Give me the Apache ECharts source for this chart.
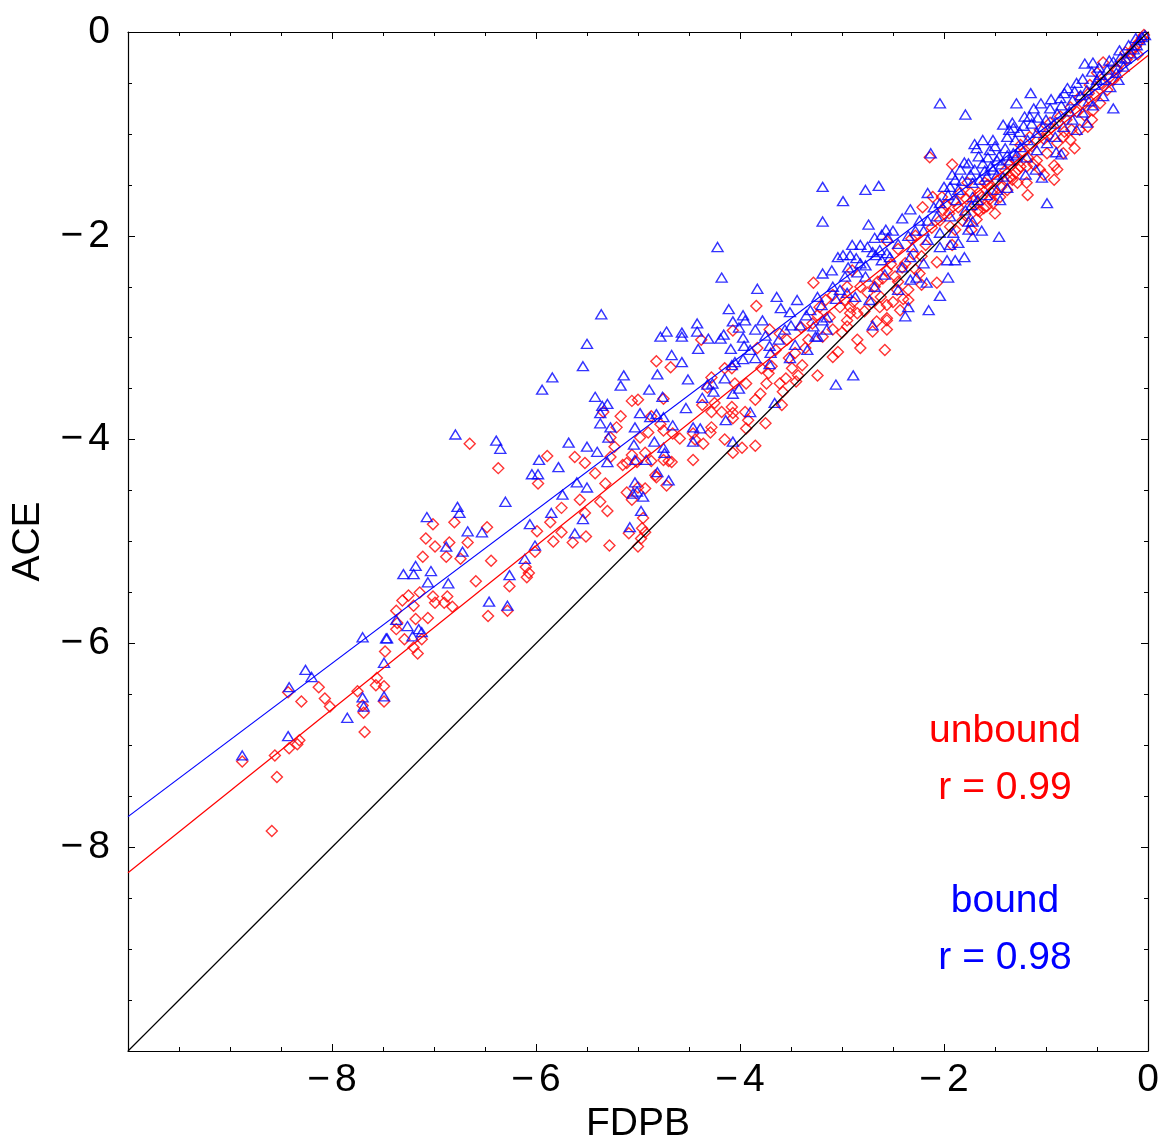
<!DOCTYPE html>
<html>
<head>
<meta charset="utf-8">
<script src="https://cdn.jsdelivr.net/npm/echarts@6/dist/echarts.min.js"></script>
<style>
html,body{margin:0;padding:0;background:#ffffff;}
#chart{width:1163px;height:1140px;}
</style>
</head>
<body>
<div id="chart"></div>
<script>
// ---------------- data ----------------
const axisMin = -10;
const axisMax = 0;
const majorStep = 2;
const xAxisTitle = 'FDPB';
const yAxisTitle = 'ACE';

// unbound (red diamonds): [FDPB, ACE]
const unboundPoints = [
[-7.48,-6.08],[-8.13,-6.43],[-8.43,-6.48],[-8.30,-6.57],[-8.07,-6.54],[-8.02,-6.62],[-7.75,-6.47],[-7.56,-6.34],[-7.57,-6.41],[-7.49,-6.42],[-7.49,-6.57],[-7.70,-6.61],[-7.69,-6.68],[-7.68,-6.87],[-8.32,-6.95],[-8.34,-6.99],[-8.42,-7.03],[-8.56,-7.10],[-8.88,-7.16],[-8.54,-7.31],[-8.59,-7.84],
[-6.65,-4.04],[-6.37,-4.28],[-5.89,-4.16],[-5.62,-4.17],[-5.52,-4.23],[-5.98,-4.43],[-5.42,-4.33],[-5.32,-4.43],[-5.57,-4.59],[-5.75,-4.67],[-5.37,-4.61],[-5.30,-4.70],[-5.52,-4.72],[-5.86,-4.81],[-5.99,-4.90],[-5.75,-4.91],[-5.51,-4.95],[-5.64,-5.01],[-5.83,-5.00],[-5.28,-5.04],[-7.01,-4.83],[-6.80,-4.81],[-6.48,-4.86],[-7.08,-4.97],[-6.99,-5.05],[-6.85,-5.01],[-6.67,-5.01],[-6.88,-5.15],[-7.11,-5.15],[-6.74,-5.17],[-6.44,-5.19],[-6.01,-5.10],[-6.10,-5.25],[-6.07,-5.31],[-6.09,-5.35],[-6.59,-5.39],[-6.26,-5.44],[-7.14,-5.50],[-7.25,-5.53],[-7.31,-5.58],[-7.01,-5.54],[-6.87,-5.54],[-6.99,-5.60],[-6.90,-5.60],[-6.82,-5.64],[-7.20,-5.63],[-7.37,-5.68],[-7.36,-5.80],[-7.37,-5.86],[-7.18,-5.76],[-7.06,-5.75],[-7.29,-5.96],[-7.12,-5.96],[-7.20,-6.04],[-7.16,-6.10],[-6.47,-5.73],[-6.28,-5.68],[-5.27,-3.98],[-5.21,-3.88],[-5.11,-4.23],
[-4.82,-3.23],[-4.68,-3.29],[-4.38,-3.02],[-4.32,-3.49],[-5.06,-3.62],[-5.00,-3.61],[-5.17,-3.77],[-5.34,-3.73],[-4.75,-3.60],[-4.87,-3.77],[-4.78,-3.85],[-4.90,-3.93],[-4.98,-3.98],[-4.75,-3.91],[-4.66,-3.94],[-4.59,-3.99],[-4.37,-3.66],[-4.07,-3.79],[-4.46,-3.94],[-4.44,-4.00],[-4.46,-4.20],[-4.67,-4.22],[-4.75,-4.20],[-4.83,-4.35],[-4.72,-4.45],[-4.93,-4.48],[-5.00,-4.47],[-5.06,-4.59],[-4.95,-4.77],[-4.96,-4.87],[-4.93,-4.91],[-4.97,-4.97],[-5.00,-5.05],[-5.06,-4.15],[-5.01,-4.22],[-4.93,-4.13],[-4.87,-4.21],[-4.82,-4.37],[-4.70,-4.21],[-5.11,-4.52],[-5.09,-4.92],[-5.15,-4.25],[-5.23,-4.07],[-5.27,-4.17],
[-3.84,-2.69],[-3.28,-2.46],[-4.07,-2.93],[-3.71,-2.92],[-3.83,-3.10],[-3.61,-2.96],[-3.54,-3.02],[-3.33,-3.02],[-3.46,-3.15],[-3.39,-3.27],[-3.24,-3.37],[-3.45,-3.43],[-3.61,-3.45],[-3.74,-3.45],[-3.72,-3.35],[-3.69,-3.28],[-3.79,-3.30],[-3.94,-3.45],[-4.08,-3.30],[-4.15,-3.30],[-4.28,-3.39],[-4.05,-3.45],[-3.85,-3.61],[-4.25,-3.64],[-4.08,-3.68],[-4.28,-3.73],[-4.18,-3.73],[-4.07,-3.74],[-3.95,-3.73],[-3.92,-3.81],[-3.94,-3.89],[-3.75,-3.84],[-3.59,-3.66],[-4.29,-3.93],[-4.15,-4.00],[-4.07,-4.13],[-3.98,-4.08],[-3.85,-4.06],[-3.09,-3.19],[-3.04,-3.14],[-2.85,-3.02],[-2.82,-3.10],[-2.58,-3.12],[-2.56,-2.83],[-2.56,-2.92],[-2.70,-2.94],[-2.43,-2.73],[-2.40,-2.62],[-2.46,-2.53],[-2.35,-2.53],[-2.95,-2.83],[-2.85,-2.76],[-2.95,-2.89],[-3.19,-2.99],[-3.09,-2.92],[-3.29,-2.86],[-3.02,-2.70],[-2.92,-2.70],[-2.71,-2.66],[-2.65,-2.45],[-2.56,-2.34],[-2.90,-2.34],[-2.82,-2.50],[-2.95,-2.50],[-3.09,-2.58],[-3.16,-2.63],[-3.22,-2.70],[-3.24,-2.78],[-3.40,-2.90],[-3.49,-3.30],[-3.43,-3.37],[-3.58,-3.53],[-4.28,-3.88],[-4.36,-4.04],
[-1.92,-1.30],[-2.21,-1.72],[-2.11,-1.62],[-2.56,-2.05],[-2.45,-2.13],[-2.32,-2.03],[-2.07,-2.26],[-2.22,-2.20],[-2.41,-2.31],[-2.60,-2.42],[-2.68,-2.50],[-2.24,-2.37],[-2.22,-2.48],[-2.35,-2.63],[-2.50,-2.65],[-2.56,-2.68],[-2.63,-2.70],[-2.56,-2.81],[-2.07,-2.46],[-2.92,-2.76],[-2.97,-2.63],[-2.89,-2.65],[-1.92,-2.09],[-1.89,-1.94],[-1.79,-1.80],[-1.67,-1.75],[-1.61,-1.73],[-1.50,-1.78],[-1.53,-1.58],[-1.38,-1.45],[-1.30,-1.38],[-1.19,-1.48],[-1.25,-1.32],[-1.18,-1.23],[-1.77,-1.48],[-1.84,-1.58],[-2.01,-1.75],[-2.04,-1.85],[-1.94,-1.91],[-1.73,-1.94],[-2.14,-1.23],
[-0.92,-1.31],[-0.92,-1.45],[-1.06,-1.35],[-0.72,-1.14],[-0.76,-1.06],[-0.59,-0.93],[-0.55,-0.86],[-0.67,-0.96],[-0.83,-1.03],[-0.89,-1.09],[-0.99,-1.19],[-1.09,-1.26],[-1.19,-1.32],[-1.27,-1.35],[-1.35,-1.42],[-1.28,-1.48],[-1.38,-1.55],[-1.45,-1.62],[-1.52,-1.68],[-1.58,-1.71],[-1.65,-1.76],[-1.52,-1.55],[-1.60,-1.48],[-1.66,-1.58],[-0.54,-0.77],[-0.47,-0.70],[-0.40,-0.57],[-0.34,-0.47],[-0.30,-0.37],[-0.21,-0.27],[-0.15,-0.18],[-0.06,-0.06],[-0.44,-0.30],[-0.50,-0.40],[-0.57,-0.52],[-0.67,-0.64],[-0.76,-0.74],[-0.86,-0.83],[-0.96,-0.89],[-1.06,-0.96],[-1.16,-1.03],[-1.25,-1.11],[-0.83,-1.19],[-0.75,-0.96],[-0.89,-1.35],
[-2.02,-1.62],[-1.98,-1.70],[-1.95,-1.78],[-1.90,-1.66],[-1.86,-1.72],[-1.82,-1.85],[-1.78,-1.64],[-1.74,-1.58],[-1.70,-1.70],[-1.68,-1.84],[-1.63,-1.62],[-1.57,-1.50],[-1.55,-1.64],[-1.48,-1.46],[-1.44,-1.52],[-1.40,-1.36],[-1.36,-1.30],[-1.33,-1.45],[-1.30,-1.26],[-1.22,-1.18],[-1.14,-1.12],[-1.12,-1.30],[-1.02,-1.05],[-0.98,-1.02],[-0.95,-0.94],[-0.80,-0.86],[-0.70,-0.78],[-0.63,-0.71],[-0.58,-0.60],[-0.52,-0.62],[-0.46,-0.50],[-0.38,-0.45],[-0.32,-0.36],[-0.26,-0.30],[-0.22,-0.20],[-0.18,-0.22],[-0.12,-0.14],[-0.09,-0.10],[-0.04,-0.03],[-0.10,-0.22],[-2.30,-2.18],[-2.38,-2.27],[-2.48,-2.40],[-2.52,-2.28],[-2.62,-2.60],[-2.75,-2.56],[-2.78,-2.74],[-2.66,-2.84],[-2.45,-2.45],[-2.28,-2.33],[-2.18,-2.09],[-2.12,-1.92],[-2.28,-2.00],[-3.00,-2.95],[-3.12,-2.80],[-3.36,-3.10],[-3.52,-3.20],[-3.65,-3.12],[-3.80,-3.55],[-3.55,-3.40],[-1.18,-1.60],[-1.02,-1.40],[-0.82,-0.98],[-0.62,-0.82]
];

// bound (blue triangles): [FDPB, ACE]
const boundPoints = [
[-7.70,-5.94],[-7.47,-5.95],[-8.26,-6.26],[-8.20,-6.33],[-8.42,-6.43],[-7.49,-6.19],[-7.70,-6.53],[-7.69,-6.62],[-7.85,-6.73],[-7.49,-6.52],[-8.43,-6.91],[-8.88,-7.10],
[-6.79,-3.95],[-6.39,-4.01],[-6.35,-4.09],[-5.68,-4.03],[-5.50,-4.07],[-5.97,-4.20],[-5.78,-4.27],[-6.04,-4.34],[-5.98,-4.34],[-6.30,-4.61],[-6.77,-4.66],[-6.75,-4.72],[-7.07,-4.76],[-6.67,-4.90],[-6.53,-4.91],[-6.06,-4.83],[-5.85,-4.72],[-5.74,-4.54],[-5.60,-4.42],[-5.50,-4.47],[-5.54,-4.78],[-5.62,-4.92],[-6.01,-5.04],[-6.72,-5.10],[-6.88,-5.05],[-7.18,-5.24],[-7.30,-5.32],[-7.20,-5.32],[-7.03,-5.29],[-7.06,-5.40],[-6.86,-5.41],[-6.26,-5.33],[-6.46,-5.59],[-6.28,-5.63],[-7.37,-5.77],[-7.26,-5.83],[-7.15,-5.86],[-7.12,-5.89],[-7.21,-5.93],[-7.46,-5.95],[-6.11,-5.17],[-5.29,-3.98],[-5.37,-3.84],[-5.27,-3.88],[-5.40,-4.12],[-5.30,-4.22],
[-5.36,-2.77],[-5.50,-3.06],[-5.54,-3.28],[-5.84,-3.39],[-5.94,-3.51],[-5.14,-3.37],[-5.17,-3.47],[-4.81,-3.36],[-4.89,-3.51],[-5.42,-3.58],[-5.35,-3.67],[-5.30,-3.65],[-5.37,-3.74],[-4.76,-3.58],[-4.78,-2.99],[-4.72,-2.94],[-4.57,-2.95],[-4.57,-2.99],[-4.42,-2.86],[-4.42,-2.94],[-4.19,-3.01],[-4.67,-3.17],[-4.57,-3.24],[-4.41,-3.11],[-4.51,-3.41],[-4.53,-3.69],[-4.98,-3.74],[-4.82,-3.75],[-4.75,-3.78],[-4.66,-3.86],[-4.88,-3.78],[-5.03,-3.88],[-4.37,-3.59],[-4.27,-3.45],[-4.46,-3.88],[-4.39,-3.89],[-4.46,-4.02],[-5.04,-4.05],[-5.03,-4.20],[-4.92,-4.20],[-4.84,-4.02],[-4.75,-4.08],[-4.74,-4.13],[-4.81,-4.32],[-5.03,-4.42],[-5.01,-4.51],[-4.95,-4.56],[-5.05,-4.53],[-4.70,-4.40],[-4.97,-4.70],[-5.08,-4.86],[-4.08,-3.27],
[-4.22,-2.11],[-4.18,-2.41],[-3.83,-2.52],[-3.64,-2.60],[-3.44,-2.63],[-4.11,-2.72],[-3.97,-2.78],[-3.78,-2.83],[-3.60,-2.71],[-3.51,-2.75],[-4.07,-2.84],[-3.85,-2.92],[-4.01,-2.90],[-3.95,-2.83],[-4.31,-3.01],[-4.16,-2.97],[-3.97,-3.00],[-3.96,-3.08],[-3.71,-3.08],[-3.56,-2.92],[-3.46,-3.07],[-3.34,-3.12],[-4.09,-3.11],[-3.85,-3.20],[-3.70,-3.15],[-3.51,-3.20],[-4.05,-3.24],[-3.97,-3.21],[-3.71,-3.26],[-4.15,-3.40],[-4.32,-3.46],[-4.26,-3.53],[-4.07,-3.55],[-4.01,-3.50],[-3.66,-3.64],[-3.90,-3.73],[-4.14,-3.81],[-4.07,-4.02],[-2.89,-3.37],[-3.06,-3.46],[-2.70,-2.88],[-2.38,-2.79],[-2.35,-2.70],[-2.45,-2.53],[-2.33,-2.43],[-2.41,-2.31],[-2.33,-2.21],[-3.28,-2.89],[-3.26,-2.99],[-3.15,-2.92],[-3.19,-2.83],[-3.31,-2.73],[-3.24,-2.60],[-3.19,-2.37],[-3.10,-2.34],[-3.04,-2.21],[-2.90,-2.09],[-2.82,-2.09],[-2.75,-2.11],[-2.67,-2.19],[-2.61,-2.24],[-2.92,-2.19],[-2.99,-2.19],[-2.94,-2.31],[-2.85,-2.36],[-3.09,-2.50],[-3.02,-2.53],[-2.95,-2.56],[-2.87,-2.60],[-2.73,-2.63],[-2.68,-2.50],[-2.77,-2.40],[-2.58,-2.38],[-3.15,-2.80],[-3.24,-2.99],[-3.41,-2.88],[-2.56,-2.17],
[-2.13,-1.19],[-2.77,-1.55],[-2.64,-1.51],[-2.99,-1.66],[-2.16,-1.58],[-2.33,-1.74],[-2.41,-1.83],[-2.24,-1.85],[-2.74,-1.89],[-2.57,-1.94],[-2.50,-1.95],[-2.68,-2.02],[-2.61,-1.99],[-2.63,-2.14],[-2.31,-2.11],[-2.28,-1.95],[-2.16,-2.04],[-2.04,-2.11],[-2.20,-2.27],[-1.97,-2.24],[-1.89,-2.24],[-1.80,-2.21],[-1.96,-2.41],[-2.17,-2.46],[-2.04,-2.59],[-2.15,-2.73],[-2.27,-2.41],[-1.46,-2.01],[-1.63,-1.95],[-1.72,-2.01],[-1.76,-1.94],[-1.72,-1.86],[-1.86,-2.07],[-1.94,-2.09],[-2.04,-1.97],[-1.91,-1.97],[-2.53,-2.21],[-2.82,-2.27],[-2.77,-2.29],[-1.94,-1.52],[-1.89,-1.45],[-1.84,-1.35],[-1.76,-1.29],[-1.70,-1.35],[-1.62,-1.29],[-1.57,-1.23],[-1.48,-1.26],[-1.38,-1.21],[-1.32,-1.19],[-1.72,-1.48],[-1.65,-1.45],[-1.58,-1.42],[-1.48,-1.40],[-1.38,-1.53],[-1.45,-1.65],[-1.67,-1.65],[-1.88,-1.65],[-2.04,-1.68],[-2.07,-1.81],[-2.16,-1.85],[-1.94,-1.81],[-1.76,-1.86],[-1.73,-1.70],[-1.58,-1.60],[-3.19,-1.52],[-3.19,-1.86],[-2.04,-0.70],
[-1.79,-0.81],[-0.62,-0.31],[-1.29,-0.70],[-1.15,-0.60],[-1.12,-0.75],[-1.21,-0.83],[-1.16,-0.83],[-1.42,-0.91],[-1.33,-0.89],[-1.32,-0.94],[-1.38,-1.03],[-1.52,-1.06],[-1.68,-1.14],[-1.55,-1.16],[-1.46,-1.22],[-1.04,-1.43],[-0.99,-1.68],[-0.34,-0.75],[-0.29,-0.47],[-0.44,-0.63],[-0.50,-0.47],[-0.55,-0.39],[-0.79,-0.55],[-0.86,-0.65],[-0.70,-0.50],[-0.96,-0.75],[-0.89,-0.80],[-0.74,-0.67],[-0.60,-0.57],[-0.37,-0.54],[-0.24,-0.34],[-0.17,-0.21],[-0.08,-0.08],[-0.03,-0.03],[-0.11,-0.13],[-0.27,-0.25],[-0.34,-0.29],[-0.40,-0.37],[-0.47,-0.42],[-0.54,-0.30],[-1.03,-0.93],[-1.09,-0.99],[-1.18,-1.06],[-1.25,-1.13],[-1.29,-1.21],[-1.35,-1.26],[-1.19,-1.23],[-1.09,-1.16],[-0.99,-1.09],[-0.91,-1.03],[-0.83,-0.93],[-0.74,-0.86],[-0.64,-0.79],[-0.54,-0.72],[-0.70,-0.96],[-0.60,-0.89],[-1.52,-1.35],[-1.42,-1.42],[-1.48,-1.55],[-1.72,-1.62],[-1.79,-1.75],
[-2.00,-1.52],[-1.96,-1.60],[-1.92,-1.40],[-1.86,-1.55],[-1.82,-1.46],[-1.80,-1.28],[-1.74,-1.40],[-1.66,-1.22],[-1.60,-1.36],[-1.54,-1.32],[-1.50,-1.12],[-1.44,-1.30],[-1.40,-1.14],[-1.36,-0.96],[-1.30,-1.06],[-1.26,-0.98],[-1.22,-0.92],[-1.14,-0.90],[-1.08,-0.84],[-1.05,-0.70],[-1.00,-0.86],[-0.95,-0.66],[-0.92,-0.90],[-0.85,-0.72],[-0.82,-0.60],[-0.77,-0.78],[-0.72,-0.58],[-0.66,-0.62],[-0.64,-0.46],[-0.58,-0.68],[-0.52,-0.52],[-0.48,-0.35],[-0.43,-0.47],[-0.38,-0.28],[-0.31,-0.40],[-0.28,-0.18],[-0.22,-0.26],[-0.19,-0.13],[-0.14,-0.17],[-0.06,-0.05],[-0.12,-0.06],[-2.10,-1.72],[-2.20,-1.95],[-2.35,-2.00],[-2.45,-2.08],[-2.55,-2.02],[-2.70,-2.16],[-2.86,-2.22],[-2.97,-2.40],[-3.06,-2.62],[-3.20,-2.68],[-3.35,-2.78],[-3.50,-2.88],[-3.62,-3.02],[-3.75,-2.98],[-3.90,-3.12],[-1.70,-1.10],[-1.62,-1.06],[-1.20,-1.40],[-1.10,-1.35],[-0.85,-1.20],[-0.90,-1.18]
];

// reference and fitted lines (endpoints in data units)
const identityLine = [[-10,-10],[0,0]];
const unboundFit = [[-10,-8.25],[0,-0.23]];
const boundFit = [[-10,-7.70],[0,-0.18]];

// annotation texts
const unboundLabels = ['unbound', 'r = 0.99'];
const boundLabels = ['bound', 'r = 0.98'];

// ---------------- chart ----------------
const FONT = 'Liberation Sans, Arial, Helvetica, sans-serif';
const RED = '#ff0000';
const BLUE = '#0000ff';

function tickFmt(v) {
  if (v === axisMin) return '';
  return v < 0 ? '\u2212{g| }' + Math.abs(v) : String(v);
}
const labelRich = { g: { width: 5, fontSize: 39, fontFamily: FONT } };

const tickCommon = {
  min: axisMin, max: axisMax, interval: majorStep, type: 'value',
  axisLine: { show: true, onZero: false, lineStyle: { color: '#000', width: 1.2 } },
  axisTick: { show: true, inside: true, length: 7, lineStyle: { color: '#000', width: 1 } },
  minorTick: { show: true, splitNumber: 4, length: 4, lineStyle: { color: '#000', width: 1 } },
  splitLine: { show: false },
  minorSplitLine: { show: false }
};

const chart = echarts.init(document.getElementById('chart'), null, { renderer: 'canvas' });

const annoStyle = (text, color) => ({ text: text, fill: color, fontSize: 39, fontFamily: FONT, align: 'center', verticalAlign: 'middle' });

chart.setOption({
  animation: false,
  backgroundColor: '#ffffff',
  grid: { left: 128, top: 32, right: 15, bottom: 89, containLabel: false, outerBoundsMode: 'none' },
  xAxis: [
    Object.assign({}, tickCommon, {
      position: 'bottom',
      name: xAxisTitle, nameLocation: 'middle', nameGap: 52,
      nameTextStyle: { fontSize: 39, color: '#000', fontFamily: FONT },
      axisLabel: { show: true, formatter: tickFmt, fontSize: 39, color: '#000', fontFamily: FONT, margin: 10,
        showMinLabel: true, showMaxLabel: true, hideOverlap: false, rich: labelRich }
    }),
    Object.assign({}, tickCommon, { position: 'top', axisLabel: { show: false } })
  ],
  yAxis: [
    Object.assign({}, tickCommon, {
      position: 'left',
      name: yAxisTitle, nameLocation: 'middle', nameGap: 80,
      nameTextStyle: { fontSize: 39, color: '#000', fontFamily: FONT },
      axisLabel: { show: true, formatter: tickFmt, fontSize: 39, color: '#000', fontFamily: FONT, margin: 18,
        showMinLabel: true, showMaxLabel: true, hideOverlap: false, rich: labelRich }
    }),
    Object.assign({}, tickCommon, { position: 'right', axisLabel: { show: false } })
  ],
  series: [
    {
      type: 'scatter', name: 'unbound', data: unboundPoints, xAxisIndex: 0, yAxisIndex: 0,
      symbol: 'diamond', symbolSize: [11, 11], silent: true, z: 2,
      itemStyle: { color: 'rgba(0,0,0,0)', borderColor: RED, borderWidth: 1.4 }
    },
    {
      type: 'scatter', name: 'bound', data: boundPoints, xAxisIndex: 0, yAxisIndex: 0,
      symbol: 'triangle', symbolSize: [11, 9], silent: true, z: 3,
      itemStyle: { color: 'rgba(0,0,0,0)', borderColor: BLUE, borderWidth: 1.4 }
    },
    {
      type: 'line', data: identityLine, xAxisIndex: 0, yAxisIndex: 0, showSymbol: false, symbol: 'none',
      silent: true, z: 4, lineStyle: { color: '#000', width: 1.2 }
    },
    {
      type: 'line', data: unboundFit, xAxisIndex: 0, yAxisIndex: 0, showSymbol: false, symbol: 'none',
      silent: true, z: 4, lineStyle: { color: RED, width: 1.2 }
    },
    {
      type: 'line', data: boundFit, xAxisIndex: 0, yAxisIndex: 0, showSymbol: false, symbol: 'none',
      silent: true, z: 4, lineStyle: { color: BLUE, width: 1.2 }
    }
  ],
  graphic: [
    { type: 'text', x: 1005, y: 731, style: annoStyle(unboundLabels[0], RED), z: 10 },
    { type: 'text', x: 1005, y: 788, style: annoStyle(unboundLabels[1], RED), z: 10 },
    { type: 'text', x: 1005, y: 901, style: annoStyle(boundLabels[0], BLUE), z: 10 },
    { type: 'text', x: 1005, y: 958, style: annoStyle(boundLabels[1], BLUE), z: 10 }
  ]
});
</script>
</body>
</html>
